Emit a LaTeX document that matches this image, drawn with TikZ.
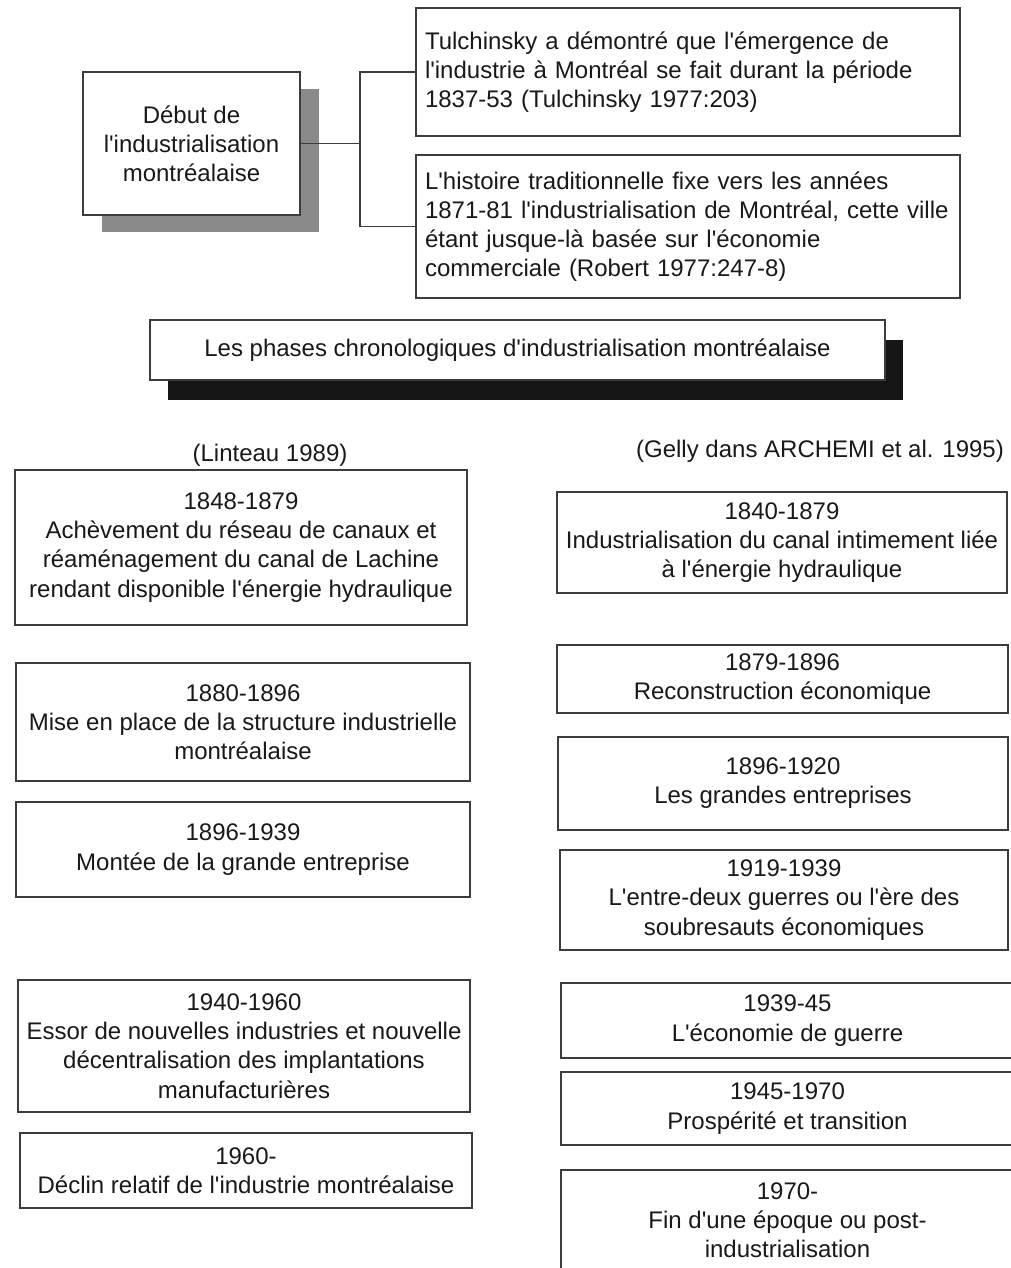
\documentclass[tikz,border=0pt]{standalone}
\usepackage{fontspec}
\setmainfont{Liberation Sans}[Ligatures=TeXOff]
\usetikzlibrary{positioning, shadows}
\definecolor{grisombre}{RGB}{138,138,138}
\definecolor{noirombre}{RGB}{22,22,22}
\definecolor{traitgris}{RGB}{60,60,60}

\begin{document}
\begin{tikzpicture}[
			x=0.5pt, y=-0.5pt,
			every node/.style = {
				font=\fontsize{12}{14.6}\selectfont,
				text=black!90,
				inner sep=0pt
			},
			boite/.style = {
				rectangle,
				draw=traitgris,
				line width=0.6pt,
				fill=white,
				align=center
			},
			boitetexte/.style = {
				boite,
				align=left,
				text width=263pt,
				inner xsep=4.5pt
			},
			ombregrise/.style = {
				drop shadow={shadow xshift=9.25pt, shadow yshift=-8.5pt, fill=grisombre, opacity=1}
			},
			ombrenoire/.style = {
				drop shadow={shadow xshift=9pt, shadow yshift=-10pt, fill=noirombre, opacity=1}
			},
			lien/.style = {draw=traitgris, line width=0.6pt}
			]
			
			\useasboundingbox (0,0) rectangle (1011,1268);
			\clip (0,0) rectangle (1011,1268);
			
			\node[boite, ombregrise, minimum width=108.5pt, minimum height=71.5pt] (debut) at (191.5,143.5)
			{Début de\\l'industrialisation\\montréalaise};
			
			\node[boitetexte, minimum height=64pt] (tulch) at (688,72)
			{Tulchinsky a démontré que l'émergence de\\l'industrie à Montréal se fait durant la période\\1837-53 (Tulchinsky 1977:203)};
			\node[boitetexte, minimum height=71.5pt] (histoire) at (688,226.5)
			{L'histoire traditionnelle fixe vers les années\\1871-81 l'industrialisation de Montréal, cette ville\\étant jusque-là basée sur l'économie\\commerciale (Robert 1977:247-8)};
			
			\coordinate (fourche) at (360,143.5);
			\draw[lien] (debut.east) -- (fourche);
			\draw[lien] (tulch.west) -| (fourche) |- (histoire.west);
			
			\node[boite, ombrenoire, minimum width=367.5pt, minimum height=30pt] (phases) at (517.5,350)
			{Les phases chronologiques d'industrialisation montréalaise};
			
			\node (linteau) at (270,455) {(Linteau 1989)};
			\node (gelly) at (820,451) {(Gelly dans ARCHEMI et al. 1995)};
			
			\node[boite, minimum width=226pt, minimum height=77.5pt] (l1) at (241,547.5)
			{1848-1879\\Achèvement du réseau de canaux et\\réaménagement du canal de Lachine\\rendant disponible l'énergie hydraulique};
			\node[boite, minimum width=227pt, minimum height=59pt] (l2) at (243,722)
			{1880-1896\\Mise en place de la structure industrielle\\montréalaise};
			\node[boite, minimum width=227pt, minimum height=47.5pt] (l3) at (243,849.5)
			{1896-1939\\Montée de la grande entreprise};
			\node[boite, minimum width=226pt, minimum height=66pt] (l4) at (244,1046)
			{1940-1960\\Essor de nouvelles industries et nouvelle\\décentralisation des implantations\\manufacturières};
			\node[boite, minimum width=226pt, minimum height=37.5pt] (l5) at (246,1170.5)
			{1960-\\Déclin relatif de l'industrie montréalaise};
			
			\node[boite, minimum width=225pt, minimum height=50.5pt] (r1) at (782,542.5)
			{1840-1879\\Industrialisation du canal intimement liée\\à l'énergie hydraulique};
			\node[boite, minimum width=225.5pt, minimum height=34pt] (r2) at (782.5,679)
			{1879-1896\\Reconstruction économique};
			\node[boite, minimum width=225pt, minimum height=46.5pt] (r3) at (783,783.5)
			{1896-1920\\Les grandes entreprises};
			\node[boite, minimum width=224pt, minimum height=50pt] (r4) at (784,900)
			{1919-1939\\L'entre-deux guerres ou l'ère des\\soubresauts économiques};
			\node[boite, minimum width=226.5pt, minimum height=37.5pt] (r5) at (787.5,1020.5)
			{1939-45\\L'économie de guerre};
			\node[boite, minimum width=226.5pt, minimum height=36.5pt] (r6) at (787.5,1108.5)
			{1945-1970\\Prospérité et transition};
			\node[boite, minimum width=226.5pt, minimum height=50pt] (r7) at (787.5,1220)
			{1970-\\Fin d'une époque ou post-\\industrialisation};
			
		\end{tikzpicture}
\end{document}
